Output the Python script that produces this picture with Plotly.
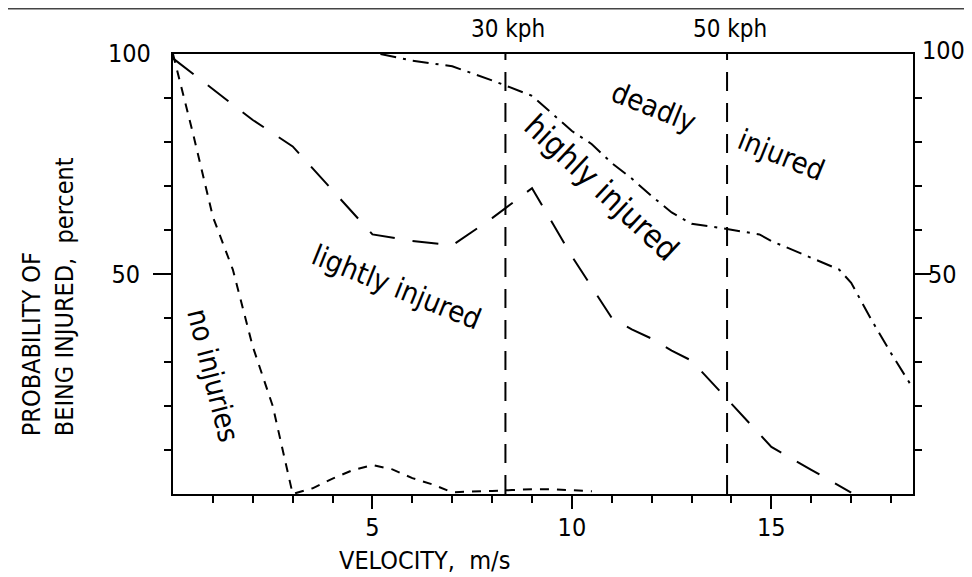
import plotly.graph_objects as go

# ---- data ----
no_inj_x = [0, 0.5, 1, 1.5, 2, 2.5, 3, 3.5, 4, 4.5, 5, 5.5, 6, 6.5, 7, 7.5, 8, 8.5, 9, 9.5, 10, 10.5]
no_inj_y = [100, 82, 63, 51, 33.5, 20, 0, 1.3, 3.5, 5.4, 6.6, 5.6, 3.6, 2.2, 0.4, 0.5, 0.7, 0.9, 1.1, 1.1, 0.8, 0.6]

light_x = [0, 1, 2, 3, 4, 5, 6, 7, 8, 9, 10, 11, 11.5, 12, 12.5, 13, 14, 15, 16, 17]
light_y = [99, 92, 85, 79, 69, 59, 57.5, 56.5, 62.7, 69.5, 54, 40, 37.4, 35.3, 32.6, 30.3, 20.5, 10.7, 5.5, 0.3]

deadly_x = [5.2, 6, 7, 8, 9, 9.5, 10, 10.5, 11, 11.5, 12, 12.5, 13, 13.5, 14, 14.7, 15, 15.7, 16.2, 16.7, 17, 17.5, 18, 18.55]
deadly_y = [100, 98.5, 97.2, 94, 90.5, 86.5, 82.5, 79.5, 75.2, 71.7, 67.7, 64, 61.4, 60.8, 60, 59, 57.5, 54.8, 53, 51, 48, 39.7, 32, 24]

speed_kph = [30, 50]
speed_labels = ["30 kph", "50 kph"]

x_major = [5, 10, 15]
x_minor = list(range(1, 19))
y_major = [50]
y_minor = [10, 20, 30, 40, 60, 70, 80, 90]

FONT = "DejaVu Sans Condensed, Liberation Sans Narrow, sans-serif"
INK = "black"

fig = go.Figure()

fig.add_trace(go.Scatter(x=no_inj_x, y=no_inj_y, mode="lines",
                         line=dict(color=INK, width=2, dash="9px,8px"), showlegend=False))
fig.add_trace(go.Scatter(x=light_x, y=light_y, mode="lines",
                         line=dict(color=INK, width=2, dash="26px,18px"), showlegend=False))
fig.add_trace(go.Scatter(x=deadly_x, y=deadly_y, mode="lines",
                         line=dict(color=INK, width=2, dash="16px,7px,3px,7px"), showlegend=False))
# invisible trace to activate the right-hand axis
fig.add_trace(go.Scatter(x=[0], y=[0], yaxis="y2", mode="markers",
                         marker=dict(opacity=0), showlegend=False, hoverinfo="skip"))

for kph, lab in zip(speed_kph, speed_labels):
    v = kph / 3.6
    fig.add_shape(type="line", x0=v, x1=v, y0=0, y1=100, xref="x", yref="y",
                  line=dict(color=INK, width=2, dash="19px,12px"))
    fig.add_annotation(x=v, y=1.0, xref="x", yref="paper", text=lab, showarrow=False,
                       xshift=3, yshift=9, yanchor="bottom", font=dict(size=24, family=FONT, color=INK))

# region labels: text, x, y, angle, size
regions = [
    ("no injuries", 1.0, 27, 76, 29),
    ("lightly injured", 5.6, 47, 22, 29),
    ("highly injured", 10.75, 69.5, 43, 32),
    ("deadly", 12.05, 88, 22, 29),
    ("injured", 15.25, 77, 22, 29),
]
for txt, x, y, ang, sz in regions:
    fig.add_annotation(x=x, y=y, xref="x", yref="y", text=txt, showarrow=False,
                       textangle=ang, font=dict(size=sz, family=FONT, color=INK))

# "100" labels at the top of both y axes
fig.add_annotation(x=0, y=100, xref="paper", yref="y", text="100", showarrow=False,
                   xanchor="right", xshift=-20, yshift=1, font=dict(size=25, family=FONT, color=INK))
fig.add_annotation(x=1, y=100, xref="paper", yref="y", text="100", showarrow=False,
                   xanchor="left", xshift=7, yshift=4, font=dict(size=25, family=FONT, color=INK))

# y title (two lines, bottom aligned)
fig.add_annotation(x=-0.161, y=0.415, xref="paper", yref="paper", xshift=-38, yshift=15,
                   text="PROBABILITY OF<br>BEING INJURED,  percent", showarrow=False,
                   textangle=-90, align="left", font=dict(size=25, family=FONT, color=INK))

# x title
fig.add_annotation(x=6.3, y=-0.152, xref="x", yref="paper", yanchor="middle",
                   text="VELOCITY,  m/s", showarrow=False, font=dict(size=25, family=FONT, color=INK))

# scan line at the top of the page
fig.add_shape(type="line", xref="paper", yref="paper", x0=-0.223, x1=1.0905, y0=1.1028, y1=1.1028,
              line=dict(color="#444", width=1.5))

axis_common = dict(showline=True, linecolor=INK, linewidth=2, showgrid=False, zeroline=False,
                   ticks="outside", tickcolor=INK, tickwidth=2,
                   tickfont=dict(size=25, family=FONT, color=INK))
minor_y = dict(tickvals=y_minor, ticklen=7, ticks="outside", tickcolor=INK, tickwidth=2)

fig.update_layout(
    width=972, height=577,
    margin=dict(l=165, r=67, t=46, b=91),
    paper_bgcolor="white", plot_bgcolor="white",
    font=dict(family=FONT, color=INK),
    xaxis=dict(range=[0, 18.55], tickvals=x_major, ticktext=[str(v) for v in x_major],
               ticklen=13, mirror=True, ticklabelstandoff=-3,
               minor=dict(tickvals=x_minor, ticklen=7, ticks="outside", tickcolor=INK, tickwidth=2),
               **axis_common),
    yaxis=dict(range=[0, 100], tickvals=y_major, ticktext=[str(v) for v in y_major], ticklen=18,
               ticklabelstandoff=8, minor=minor_y, **axis_common),
    yaxis2=dict(range=[0, 100], overlaying="y", side="right", tickvals=y_major,
                ticktext=[str(v) for v in y_major], ticklen=16, ticklabelstandoff=-8,
                minor=minor_y, **axis_common),
)

fig.write_html("out.html")
